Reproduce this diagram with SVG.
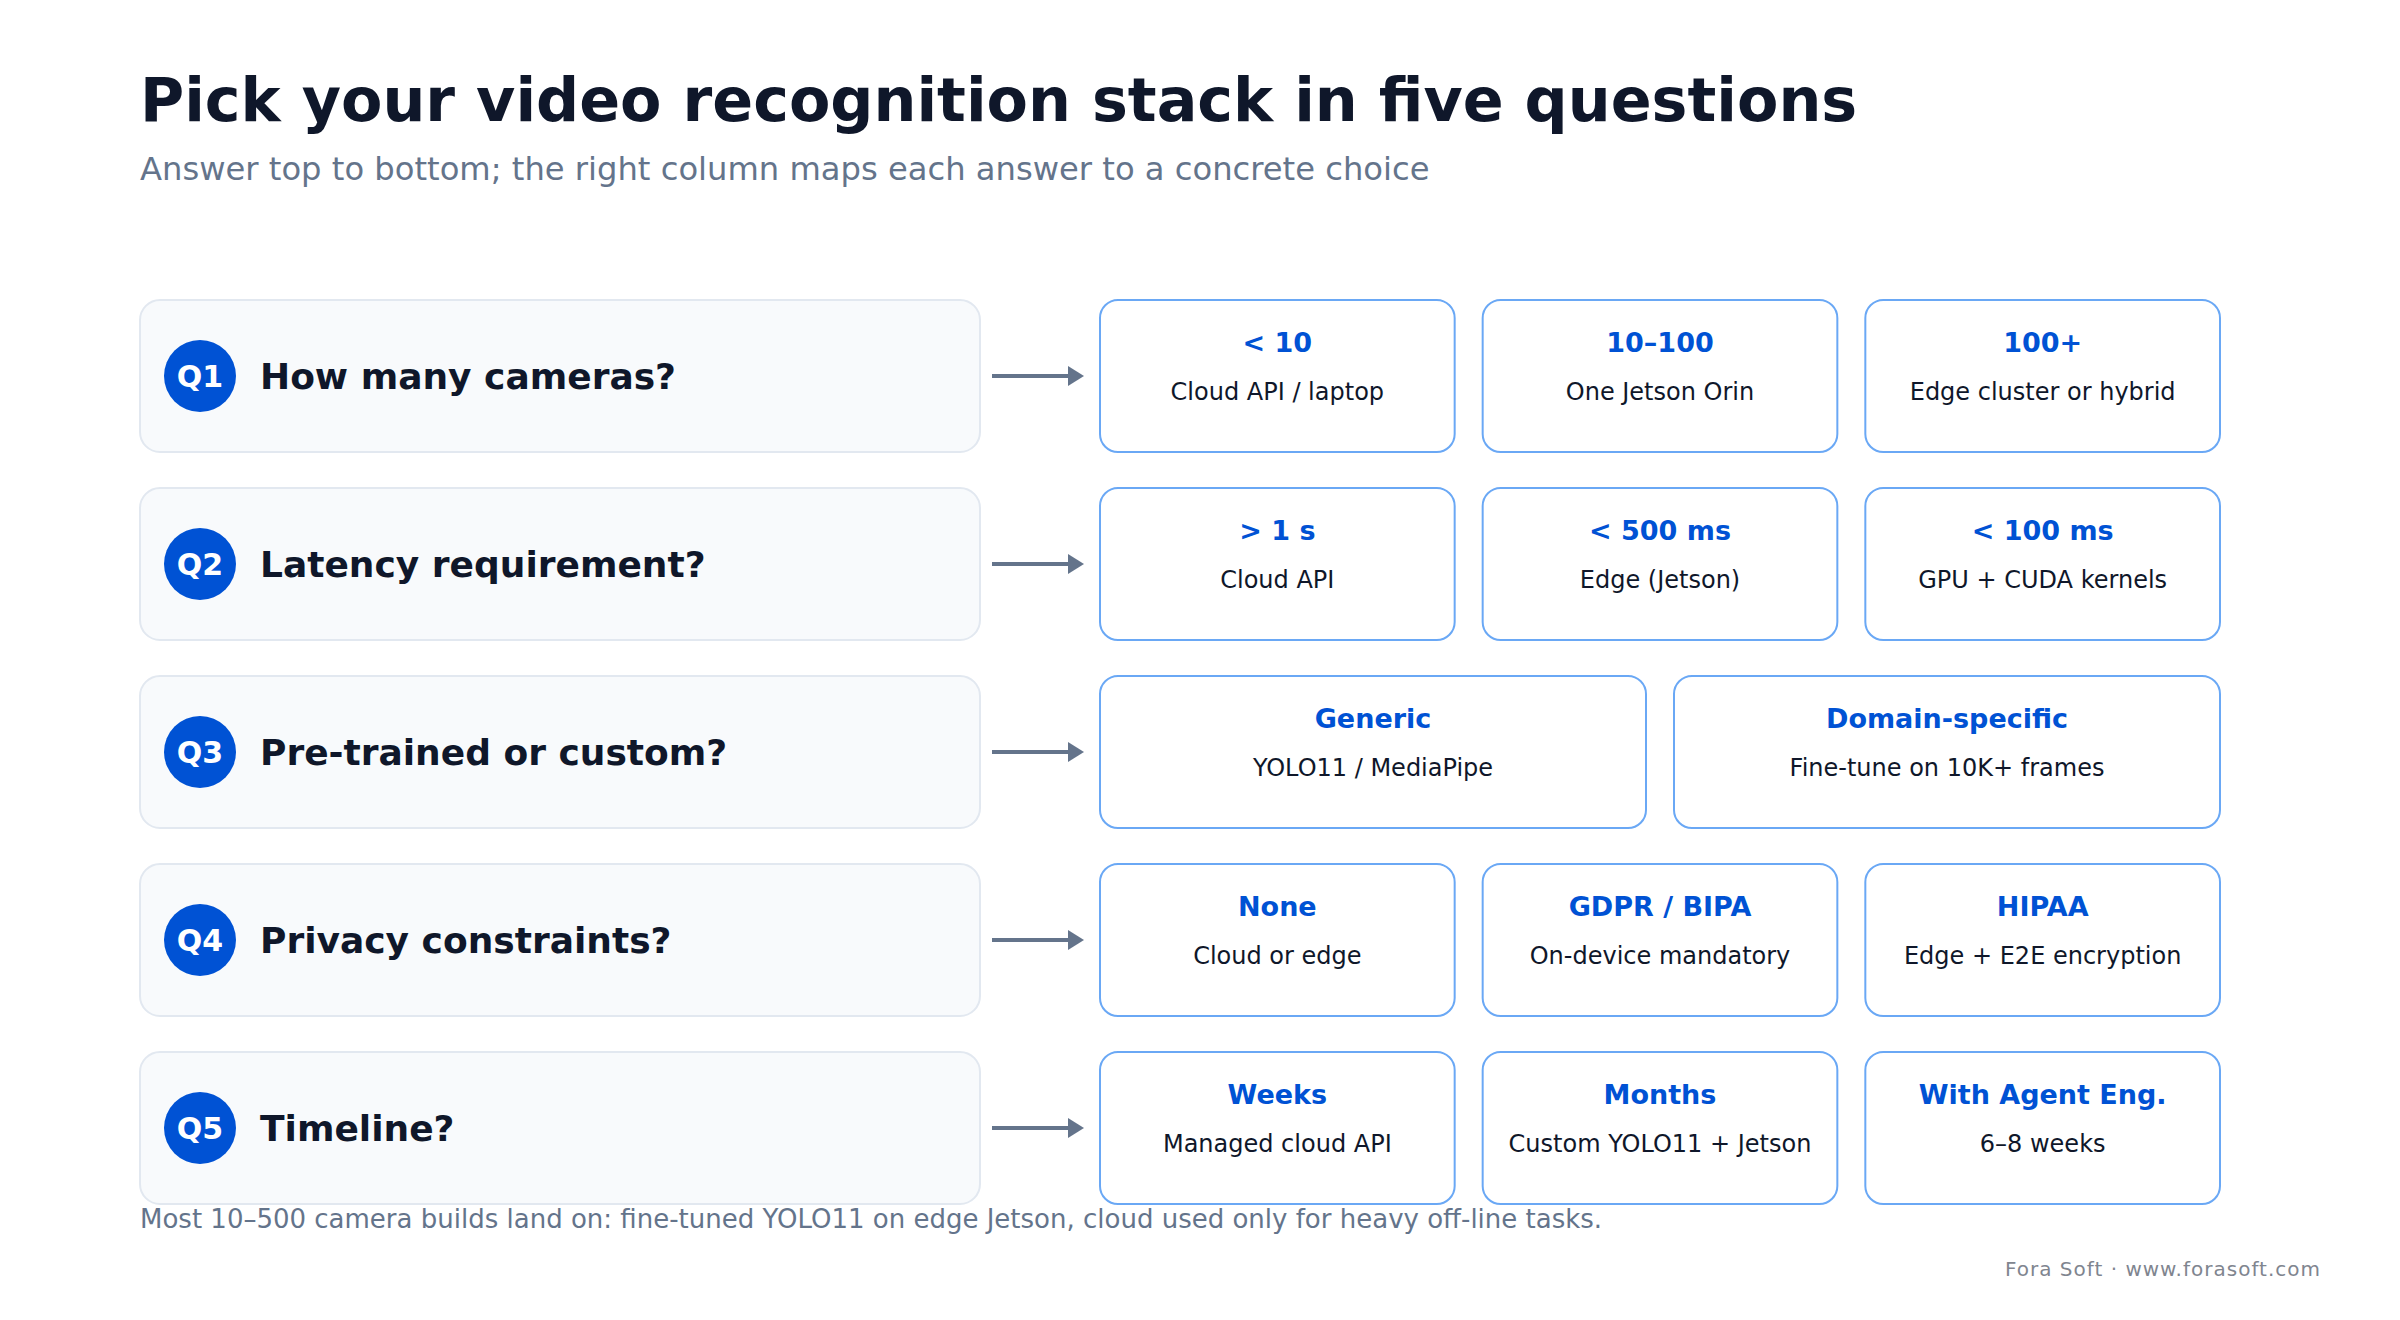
<svg xmlns="http://www.w3.org/2000/svg" width="2400" height="1320" viewBox="0 0 2400 1320">
<defs>
<style>
.bg{fill:#ffffff}
.title{font-family:"DejaVu Sans",sans-serif;font-weight:bold;font-size:60.3px;fill:#0f172a}
.sub{font-family:"DejaVu Sans",sans-serif;font-size:32.2px;fill:#64748b}
.qbox{fill:#f8fafc;stroke:#e2e8f0;stroke-width:2}
.qdot{fill:#0052d4}
.qlab{font-family:"DejaVu Sans",sans-serif;font-weight:bold;font-size:30px;fill:#ffffff;text-anchor:middle}
.qtxt{font-family:"DejaVu Sans",sans-serif;font-weight:bold;font-size:36px;fill:#0f172a}
.abox{fill:#ffffff;stroke:#6aa8f5;stroke-width:2}
.ahead{font-family:"DejaVu Sans",sans-serif;font-weight:bold;font-size:27px;fill:#0052d4;text-anchor:middle}
.abody{font-family:"DejaVu Sans",sans-serif;font-size:24px;fill:#0f172a;text-anchor:middle}
.conn{stroke:#64748b;stroke-width:4;fill:none}
.note{font-family:"DejaVu Sans",sans-serif;font-size:26px;fill:#64748b}
.credit{font-family:"DejaVu Sans",sans-serif;font-size:20px;letter-spacing:1px;fill:#80858f;text-anchor:end}
</style>
<marker id="arr" markerUnits="userSpaceOnUse" markerWidth="18" markerHeight="22" refX="0" refY="10" orient="auto">
<path d="M0,0 L16,10 L0,20 Z" fill="#64748b"/>
</marker>
</defs>
<rect class="bg" x="0" y="0" width="2400" height="1320"/>
<text class="title" x="140" y="121">Pick your video recognition stack in five questions</text>
<text class="sub" x="140" y="180">Answer top to bottom; the right column maps each answer to a concrete choice</text>

<g id="connectors">
<line class="conn" x1="992" y1="376" x2="1068" y2="376" marker-end="url(#arr)"/>
<line class="conn" x1="992" y1="564" x2="1068" y2="564" marker-end="url(#arr)"/>
<line class="conn" x1="992" y1="752" x2="1068" y2="752" marker-end="url(#arr)"/>
<line class="conn" x1="992" y1="940" x2="1068" y2="940" marker-end="url(#arr)"/>
<line class="conn" x1="992" y1="1128" x2="1068" y2="1128" marker-end="url(#arr)"/>
</g>

<g id="q1">
<rect class="qbox" x="140" y="300" width="840" height="152" rx="20"/>
<circle class="qdot" cx="200" cy="376" r="36"/>
<text class="qlab" x="200" y="387">Q1</text>
<text class="qtxt" x="260" y="389">How many cameras?</text>
</g>
<g id="q1a1"><rect class="abox" x="1100" y="300" width="354.67" height="152" rx="18"/><text class="ahead" x="1277.33" y="352">&lt; 10</text><text class="abody" x="1277.33" y="400">Cloud API / laptop</text></g>
<g id="q1a2"><rect class="abox" x="1482.67" y="300" width="354.67" height="152" rx="18"/><text class="ahead" x="1660" y="352">10–100</text><text class="abody" x="1660" y="400">One Jetson Orin</text></g>
<g id="q1a3"><rect class="abox" x="1865.33" y="300" width="354.67" height="152" rx="18"/><text class="ahead" x="2042.67" y="352">100+</text><text class="abody" x="2042.67" y="400">Edge cluster or hybrid</text></g>

<g id="q2">
<rect class="qbox" x="140" y="488" width="840" height="152" rx="20"/>
<circle class="qdot" cx="200" cy="564" r="36"/>
<text class="qlab" x="200" y="575">Q2</text>
<text class="qtxt" x="260" y="577">Latency requirement?</text>
</g>
<g id="q2a1"><rect class="abox" x="1100" y="488" width="354.67" height="152" rx="18"/><text class="ahead" x="1277.33" y="540">&gt; 1 s</text><text class="abody" x="1277.33" y="588">Cloud API</text></g>
<g id="q2a2"><rect class="abox" x="1482.67" y="488" width="354.67" height="152" rx="18"/><text class="ahead" x="1660" y="540">&lt; 500 ms</text><text class="abody" x="1660" y="588">Edge (Jetson)</text></g>
<g id="q2a3"><rect class="abox" x="1865.33" y="488" width="354.67" height="152" rx="18"/><text class="ahead" x="2042.67" y="540">&lt; 100 ms</text><text class="abody" x="2042.67" y="588">GPU + CUDA kernels</text></g>

<g id="q3">
<rect class="qbox" x="140" y="676" width="840" height="152" rx="20"/>
<circle class="qdot" cx="200" cy="752" r="36"/>
<text class="qlab" x="200" y="763">Q3</text>
<text class="qtxt" x="260" y="765">Pre-trained or custom?</text>
</g>
<g id="q3a1"><rect class="abox" x="1100" y="676" width="546" height="152" rx="18"/><text class="ahead" x="1373" y="728">Generic</text><text class="abody" x="1373" y="776">YOLO11 / MediaPipe</text></g>
<g id="q3a2"><rect class="abox" x="1674" y="676" width="546" height="152" rx="18"/><text class="ahead" x="1947" y="728">Domain-specific</text><text class="abody" x="1947" y="776">Fine-tune on 10K+ frames</text></g>

<g id="q4">
<rect class="qbox" x="140" y="864" width="840" height="152" rx="20"/>
<circle class="qdot" cx="200" cy="940" r="36"/>
<text class="qlab" x="200" y="951">Q4</text>
<text class="qtxt" x="260" y="953">Privacy constraints?</text>
</g>
<g id="q4a1"><rect class="abox" x="1100" y="864" width="354.67" height="152" rx="18"/><text class="ahead" x="1277.33" y="916">None</text><text class="abody" x="1277.33" y="964">Cloud or edge</text></g>
<g id="q4a2"><rect class="abox" x="1482.67" y="864" width="354.67" height="152" rx="18"/><text class="ahead" x="1660" y="916">GDPR / BIPA</text><text class="abody" x="1660" y="964">On-device mandatory</text></g>
<g id="q4a3"><rect class="abox" x="1865.33" y="864" width="354.67" height="152" rx="18"/><text class="ahead" x="2042.67" y="916">HIPAA</text><text class="abody" x="2042.67" y="964">Edge + E2E encryption</text></g>

<g id="q5">
<rect class="qbox" x="140" y="1052" width="840" height="152" rx="20"/>
<circle class="qdot" cx="200" cy="1128" r="36"/>
<text class="qlab" x="200" y="1139">Q5</text>
<text class="qtxt" x="260" y="1141">Timeline?</text>
</g>
<g id="q5a1"><rect class="abox" x="1100" y="1052" width="354.67" height="152" rx="18"/><text class="ahead" x="1277.33" y="1104">Weeks</text><text class="abody" x="1277.33" y="1152">Managed cloud API</text></g>
<g id="q5a2"><rect class="abox" x="1482.67" y="1052" width="354.67" height="152" rx="18"/><text class="ahead" x="1660" y="1104">Months</text><text class="abody" x="1660" y="1152">Custom YOLO11 + Jetson</text></g>
<g id="q5a3"><rect class="abox" x="1865.33" y="1052" width="354.67" height="152" rx="18"/><text class="ahead" x="2042.67" y="1104">With Agent Eng.</text><text class="abody" x="2042.67" y="1152">6–8 weeks</text></g>

<text class="note" x="140" y="1228">Most 10–500 camera builds land on: fine-tuned YOLO11 on edge Jetson, cloud used only for heavy off-line tasks.</text>
<text class="credit" x="2321" y="1276">Fora Soft · www.forasoft.com</text>
</svg>
